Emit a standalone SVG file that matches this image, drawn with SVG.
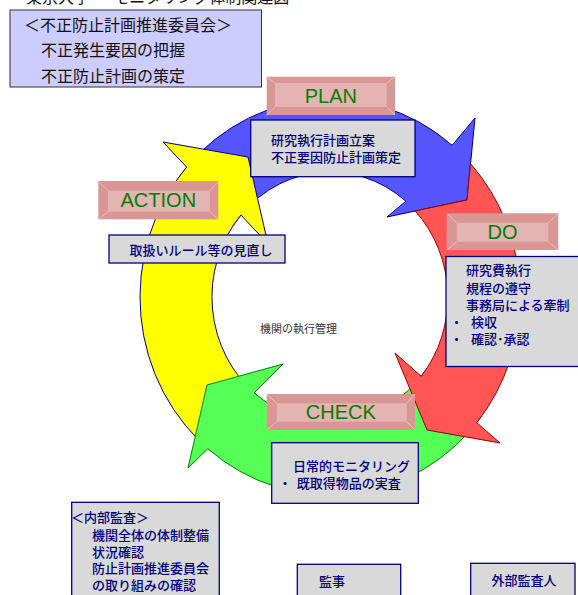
<svg xmlns="http://www.w3.org/2000/svg" width="578" height="595" viewBox="0 0 578 595">
<style>
.jp{font-family:"Noto Sans CJK JP","Noto Sans CJK SC",sans-serif;}
.nv{fill:#000080;font-size:13px;font-weight:500;}
.box{fill:#d9d9d9;stroke:#000080;stroke-width:1.3;}
.lo{fill:#d99694;}
.li{fill:#e4b4b2;}
.bv{stroke:#ecc9c8;stroke-width:0.8;fill:none;}
.lt{font-family:"Liberation Sans",Arial,sans-serif;font-size:20px;fill:#008000;text-anchor:middle;}
.arr{stroke-width:1;stroke-linejoin:miter;}
</style>
<rect width="578" height="595" fill="#ffffff"/>
<text class="jp" x="26" y="3" font-size="16" fill="#111">東京大学 ー モニタリング体制関連図</text>

<g id="cycle-arrows">
<path class="arr" fill="#5555ff" stroke="#000080" d="M174.4,183.4 A190,198 0 0 1 452.1,145.3 L475,118 L467,200 L387,217 L405.9,201.2 A118,125 0 0 0 233.3,225.3 Z"/>
<path class="arr" fill="#ffff00" stroke="#000080" d="M213,453 A190,198 0 0 1 186.6,167.1 L163,142 L248,157 L268,244 L240.9,215 A118,125 0 0 0 257.3,395.5 Z"/>
<path class="arr" fill="#55ff55" stroke="#008000" d="M481.7,416.2 A190,198 0 0 1 207.9,448.7 L188,468 L207,385 L283,364 L254.2,392.8 A118,125 0 0 0 424.2,372.2 Z"/>
<path class="arr" fill="#ff5555" stroke="#990000" d="M470.5,163.6 A190,198 0 0 1 476.8,422.7 L500,443 L427,430 L395,353 L421.2,376.3 A118,125 0 0 0 415.2,211 L467,200 Z"/>
</g>

<g id="committee">
<rect x="10" y="10" width="251.5" height="77" fill="#ccccff" stroke="#333333" stroke-width="1"/>
<text class="jp" font-size="16" fill="#111111"><tspan x="24" y="31">＜不正防止計画推進委員会＞</tspan><tspan x="41" y="56">不正発生要因の把握</tspan><tspan x="41" y="82">不正防止計画の策定</tspan></text>
</g>

<g id="plan-label">
<rect class="lo" x="266.7" y="76.7" width="128.3" height="38.3"/>
<rect class="li" x="275" y="83" width="111.7" height="24"/>
<path class="bv" d="M266.7,76.7 L275,83 M395,76.7 L386.7,83 M266.7,115 L275,107 M395,115 L386.7,107"/>
<text class="lt" x="330.8" y="102.5">PLAN</text>
</g>
<g id="plan-box">
<rect class="box" x="250.7" y="120" width="164.3" height="56.7"/>
<text class="jp nv"><tspan x="271" y="145">研究執行計画立案</tspan><tspan x="271" y="162">不正要因防止計画策定</tspan></text>
</g>

<g id="action-label">
<rect class="lo" x="98.3" y="181" width="120" height="38.3"/>
<rect class="li" x="108" y="190.7" width="102" height="21"/>
<path class="bv" d="M98.3,181 L108,190.7 M218.3,181 L210,190.7 M98.3,219.3 L108,211.7 M218.3,219.3 L210,211.7"/>
<text class="lt" x="158.3" y="206.5">ACTION</text>
</g>
<g id="action-box">
<rect class="box" x="109" y="235" width="176" height="28"/>
<text class="jp nv" x="129.5" y="255">取扱いルール等の見直し</text>
</g>

<g id="do-label">
<rect class="lo" x="446.7" y="213.3" width="111.6" height="36.7"/>
<rect class="li" x="456.7" y="222.7" width="91.6" height="19"/>
<path class="bv" d="M446.7,213.3 L456.7,222.7 M558.3,213.3 L548.3,222.7 M446.7,250 L456.7,241.7 M558.3,250 L548.3,241.7"/>
<text class="lt" x="502.5" y="239">DO</text>
</g>
<g id="do-box">
<rect class="box" x="446" y="256.5" width="135" height="110"/>
<text class="jp nv"><tspan x="466" y="275">研究費執行</tspan><tspan x="466" y="292.5">規程の遵守</tspan><tspan x="466" y="310">事務局による牽制</tspan><tspan x="450" y="327">・</tspan><tspan x="471" y="327">検収</tspan><tspan x="450" y="343.5">・</tspan><tspan x="471" y="343.5">確認･承認</tspan></text>
</g>

<g id="check-label">
<rect class="lo" x="266.7" y="394" width="148.3" height="36"/>
<rect class="li" x="276.7" y="403.3" width="130" height="18.4"/>
<path class="bv" d="M266.7,394 L276.7,403.3 M415,394 L406.7,403.3 M266.7,430 L276.7,421.7 M415,430 L406.7,421.7"/>
<text class="lt" x="340.8" y="419">CHECK</text>
</g>
<g id="check-box">
<rect class="box" x="271.7" y="442.7" width="146.6" height="60.6"/>
<text class="jp nv"><tspan x="293" y="471">日常的モニタリング</tspan><tspan x="278.5" y="487.5">・</tspan><tspan x="296.7" y="487.5">既取得物品の実査</tspan></text>
</g>

<g id="center-label">
<text class="jp" x="260" y="333" font-size="11" fill="#333333">機関の執行管理</text>
</g>

<g id="internal-audit">
<rect class="box" x="71.7" y="502.3" width="147.6" height="100"/>
<text class="jp nv"><tspan x="71" y="521.5">＜内部監査＞</tspan><tspan x="92" y="540">機関全体の体制整備</tspan><tspan x="92" y="556.5">状況確認</tspan><tspan x="92" y="573">防止計画推進委員会</tspan><tspan x="92" y="589.5">の取り組みの確認</tspan></text>
</g>

<g id="auditor">
<rect class="box" x="297.3" y="564.3" width="103.4" height="40"/>
<text class="jp nv" x="319" y="586">監事</text>
</g>

<g id="external-auditor">
<rect class="box" x="470.7" y="563.3" width="104.3" height="40"/>
<text class="jp nv" x="491.5" y="585">外部監査人</text>
</g>
</svg>
